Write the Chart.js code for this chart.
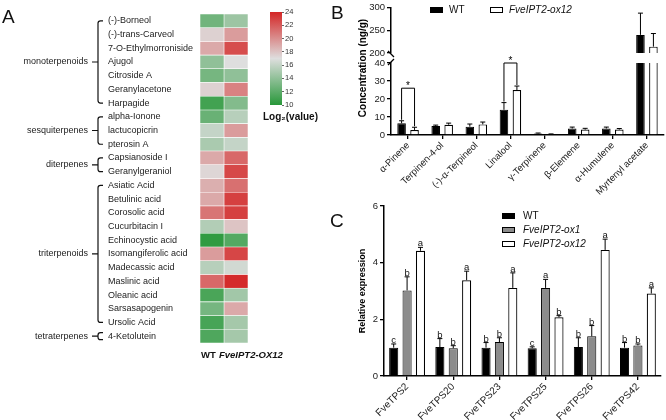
<!DOCTYPE html>
<html>
<head>
<meta charset="utf-8">
<script src="https://cdn.jsdelivr.net/npm/chart.js@4.4.1/dist/chart.umd.min.js"></script>
<style>
  html, body { margin: 0; padding: 0; background: #fff; }
  #wrap { position: relative; width: 666px; height: 420px; overflow: hidden; }
  .box { position: absolute; }
</style>
</head>
<body>
<div id="wrap">
  <div class="box" style="left:0;top:0;width:330px;height:420px"><canvas id="heatChart"></canvas></div>
  <div class="box" style="left:250px;top:0;width:80px;height:140px"><canvas id="scaleChart"></canvas></div>
  <div class="box" style="left:330px;top:0;width:336px;height:200px"><canvas id="bLowChart"></canvas></div>
  <div class="box" style="left:330px;top:0;width:336px;height:200px"><canvas id="bHighChart"></canvas></div>
  <div class="box" style="left:330px;top:195px;width:336px;height:225px"><canvas id="cChart"></canvas></div>
</div>
<script>
const FONT = '"Liberation Sans", Arial, Helvetica, sans-serif';
Chart.defaults.font.family = FONT;
Chart.defaults.color = '#222';
Chart.defaults.animation = false;
Chart.defaults.maintainAspectRatio = false;
Chart.defaults.plugins.legend.display = false;
Chart.defaults.plugins.tooltip.enabled = false;

// A - heatmap (log2 values)
const compounds = ['(-)-Borneol', '(-)-trans-Carveol', '7-O-Ethylmorroniside', 'Ajugol', 'Citroside A',
  'Geranylacetone', 'Harpagide', 'alpha-Ionone', 'lactucopicrin', 'pterosin A', 'Capsianoside I',
  'Geranylgeraniol', 'Asiatic Acid', 'Betulinic acid', 'Corosolic acid', 'Cucurbitacin I',
  'Echinocystic acid', 'Isomangiferolic acid', 'Madecassic acid', 'Maslinic acid', 'Oleanic acid',
  'Sarsasapogenin', 'Ursolic Acid', '4-Ketolutein'];
const log2WT = [12.8, 17.5, 19, 14, 13, 17.5, 11, 12.5, 16, 15, 19, 17.3, 18.8, 19, 21, 15.3, 10.3, 19.5, 15.5, 21.5, 11.3, 13, 11.2, 11.5];
const log2OX = [14.5, 19.5, 22.5, 17, 14, 20.5, 13.5, 15.5, 19.5, 16, 21.5, 22.7, 21.2, 23, 23, 18, 11.7, 22.8, 16.5, 23.8, 14.7, 19, 14.8, 14.8];
const groupNames = ['monoterpenoids', 'sesquiterpenes', 'diterpenes', 'triterpenoids', 'tetraterpenes'];
const groupSizes = [7, 3, 2, 11, 1];
const heatColumns = ['WT', 'FveIPT2-OX12'];
const scaleMin = 10, scaleMax = 24;

// B - concentration (ng/g)
const labelsB = ['α-Pinene', 'Terpinen-4-ol', '(-)-α-Terpineol', 'Linalool', 'γ-Terpinene', 'β-Elemene', 'α-Humulene', 'Myrtenyl acetate'];
const wtB = [6.5, 5.0, 4.6, 14, 0.8, 3.6, 3.6, 240];
const wtErrB = [1.4, 0.5, 1.5, 4.0, 0.3, 0.8, 0.8, 48];
const oxB = [2.8, 5.7, 5.9, 25, 0.4, 3.0, 3.0, 214];
const oxErrB = [1.5, 0.9, 1.3, 2.2, 0.2, 0.7, 0.6, 29];
const sigPairs = [{ index: 0, level: 26 }, { index: 3, level: 40 }];

// C - relative expression
const genesC = ['FveTPS2', 'FveTPS20', 'FveTPS23', 'FveTPS25', 'FveTPS26', 'FveTPS42'];
const wtC = [1.0, 1.02, 1.0, 0.98, 1.02, 1.0];
const wtErrC = [0.13, 0.3, 0.18, 0.05, 0.33, 0.18];
const ox1C = [3.02, 0.98, 1.2, 3.11, 1.4, 1.08];
const ox1ErrC = [0.48, 0.09, 0.15, 0.3, 0.38, 0.05];
const ox12C = [4.42, 3.38, 3.11, 2.07, 4.45, 2.91];
const ox12ErrC = [0.12, 0.32, 0.53, 0.06, 0.38, 0.2];
const wtLetters = ['c', 'b', 'b', 'c', 'b', 'b'];
const ox1Letters = ['b', 'b', 'b', 'a', 'b', 'b'];
const ox12Letters = ['a', 'a', 'a', 'b', 'a', 'a'];

const green = [40, 152, 58], mid = [222, 222, 222], red = [212, 38, 38];
function heatColor(v) {
  const t = Math.max(0, Math.min(1, (v - scaleMin) / (scaleMax - scaleMin)));
  const a = t < 0.5 ? green : mid, b = t < 0.5 ? mid : red;
  const f = t < 0.5 ? t / 0.5 : (t - 0.5) / 0.5;
  return 'rgb(' + a.map((x, i) => Math.round(x + (b[i] - x) * f)).join(',') + ')';
}

function panelLetter(ctx, s, x, y) {
  ctx.font = '19px ' + FONT;
  ctx.fillStyle = '#111';
  ctx.textAlign = 'left';
  ctx.textBaseline = 'alphabetic';
  ctx.fillText(s, x, y);
}

// brackets, group names, column names
const heatDecor = {
  id: 'heatDecor',
  afterDraw(chart) {
    const { ctx } = chart;
    const y = chart.scales.y, x = chart.scales.x;
    ctx.save();
    ctx.strokeStyle = '#111';
    ctx.fillStyle = '#222';
    ctx.lineWidth = 1.2;
    ctx.font = '9px ' + FONT;
    ctx.textAlign = 'right';
    ctx.textBaseline = 'middle';
    const bx = 98;
    let start = 0;
    groupNames.forEach((name, g) => {
      const end = start + groupSizes[g] - 1;
      let y0 = y.getPixelForValue(start), y1 = y.getPixelForValue(end);
      if (y1 - y0 < 7) { const m = (y0 + y1) / 2; y0 = m - 3.5; y1 = m + 3.5; }
      const m = (y0 + y1) / 2;
      ctx.beginPath();
      ctx.moveTo(bx + 5, y0);
      ctx.arcTo(bx, y0, bx, y0 + 3, 2.5);
      ctx.lineTo(bx, y1 - 3);
      ctx.arcTo(bx, y1, bx + 5, y1, 2.5);
      ctx.lineTo(bx + 5, y1);
      ctx.moveTo(bx, m);
      ctx.lineTo(bx - 6, m);
      ctx.stroke();
      ctx.fillText(name, 88, m);
      start = end + 1;
    });
    ctx.textAlign = 'left';
    ctx.textBaseline = 'alphabetic';
    ctx.fillStyle = '#111';
    ctx.font = 'bold 9.5px ' + FONT;
    ctx.fillText(heatColumns[0], x.getPixelForValue(0) + 1, 358);
    ctx.font = 'italic bold 9.5px ' + FONT;
    ctx.fillText(heatColumns[1], x.getPixelForValue(1) - 5, 358);
    panelLetter(ctx, 'A', 2, 23);
    ctx.restore();
  }
};

new Chart(document.getElementById('heatChart'), {
  type: 'bar',
  data: {
    labels: compounds,
    datasets: [
      { label: heatColumns[0], data: compounds.map(() => [0, 1]), backgroundColor: log2WT.map(heatColor) },
      { label: heatColumns[1], data: compounds.map(() => [1, 2]), backgroundColor: log2OX.map(heatColor) }
    ]
  },
  options: {
    indexAxis: 'y',
    layout: { padding: { left: 108, top: 14, right: 82, bottom: 77 } },
    datasets: { bar: { grouped: false, barPercentage: 1, categoryPercentage: 1, borderColor: '#fff', borderWidth: 0.6, borderSkipped: false } },
    scales: {
      x: { type: 'linear', min: 0, max: 2, display: false },
      y: {
        grid: { display: false }, border: { display: false },
        ticks: { crossAlign: 'far', font: { size: 9 }, color: '#222', padding: 0, autoSkip: false },
        afterFit: s => { s.width = 92; }
      }
    }
  },
  plugins: [heatDecor]
});

// colour scale
const scaleTitle = {
  id: 'scaleTitle',
  afterDraw(chart) {
    const { ctx } = chart;
    ctx.save();
    ctx.fillStyle = '#111';
    ctx.textBaseline = 'alphabetic';
    ctx.font = 'bold 10px ' + FONT;
    ctx.fillText('Log₂(value)', 13, 120);
    ctx.restore();
  }
};

new Chart(document.getElementById('scaleChart'), {
  type: 'bar',
  data: {
    labels: [''],
    datasets: [{
      data: [[scaleMin, scaleMax]],
      backgroundColor: c => {
        const a = c.chart.chartArea;
        if (!a) return '#ccc';
        const g = c.chart.ctx.createLinearGradient(0, a.bottom, 0, a.top);
        g.addColorStop(0, heatColor(scaleMin));
        g.addColorStop(0.5, heatColor((scaleMin + scaleMax) / 2));
        g.addColorStop(1, heatColor(scaleMax));
        return g;
      }
    }]
  },
  options: {
    layout: { padding: { left: 20, top: 12, right: 28, bottom: 35 } },
    datasets: { bar: { barPercentage: 1, categoryPercentage: 1, borderWidth: 0 } },
    scales: {
      x: { display: false },
      y: {
        position: 'right', min: scaleMin, max: scaleMax,
        ticks: { stepSize: 2, font: { size: 7.5 }, padding: 1, color: '#333' },
        grid: { drawOnChartArea: false, tickLength: 2, color: '#666' },
        border: { display: false },
        afterFit: s => { s.width = 20; }
      }
    }
  },
  plugins: [scaleTitle]
});

// error bars (upper only)
const errorBars = {
  id: 'errorBars',
  afterDatasetsDraw(chart) {
    const { ctx, chartArea: a } = chart;
    const yScale = chart.scales.y;
    ctx.save();
    ctx.beginPath();
    ctx.rect(a.left, a.top - 1, a.right - a.left, a.bottom - a.top + 2);
    ctx.clip();
    ctx.strokeStyle = '#000';
    ctx.lineWidth = 1;
    chart.data.datasets.forEach((ds, i) => {
      if (!ds.errors) return;
      chart.getDatasetMeta(i).data.forEach((bar, j) => {
        const yTop = yScale.getPixelForValue(ds.data[j] + ds.errors[j]);
        ctx.beginPath();
        ctx.moveTo(bar.x, bar.y);
        ctx.lineTo(bar.x, yTop);
        ctx.moveTo(bar.x - 2.5, yTop);
        ctx.lineTo(bar.x + 2.5, yTop);
        ctx.stroke();
      });
    });
    ctx.restore();
  }
};

const bDecor = {
  id: 'bDecor',
  afterDraw(chart) {
    const { ctx } = chart;
    const y = chart.scales.y;
    const m0 = chart.getDatasetMeta(0), m1 = chart.getDatasetMeta(1);
    const ds0 = chart.data.datasets[0], ds1 = chart.data.datasets[1];
    ctx.save();
    ctx.strokeStyle = '#000';
    ctx.fillStyle = '#000';
    ctx.lineWidth = 1;
    sigPairs.forEach(p => {
      const xa = m0.data[p.index].x, xb = m1.data[p.index].x;
      const yl = y.getPixelForValue(p.level);
      const ya = y.getPixelForValue(ds0.data[p.index] + ds0.errors[p.index]) - 1;
      const yb = y.getPixelForValue(ds1.data[p.index] + ds1.errors[p.index]) - 1;
      ctx.beginPath();
      ctx.moveTo(xa, ya); ctx.lineTo(xa, yl); ctx.lineTo(xb, yl); ctx.lineTo(xb, yb);
      ctx.stroke();
      ctx.font = '10px ' + FONT;
      ctx.textAlign = 'center';
      ctx.textBaseline = 'alphabetic';
      ctx.fillText('*', (xa + xb) / 2, yl + 1);
    });
    // axis break marks
    const ax = chart.chartArea.left;
    ctx.lineWidth = 1.3;
    ctx.beginPath();
    ctx.moveTo(ax - 3, 51); ctx.lineTo(ax + 3, 57);
    ctx.moveTo(ax - 3, 65); ctx.lineTo(ax + 3, 59);
    ctx.stroke();
    // y title spanning both segments
    ctx.save();
    ctx.translate(33, 68);
    ctx.rotate(-Math.PI / 2);
    ctx.font = 'bold 10px ' + FONT;
    ctx.textAlign = 'center';
    ctx.textBaseline = 'middle';
    ctx.fillText('Concentration (ng/g)', 0, 0);
    ctx.restore();
    panelLetter(ctx, 'B', 1, 19);
    ctx.restore();
  }
};

function drawLegend(chart, x0, y0, step, horizontal, offsets) {
  const { ctx } = chart;
  ctx.save();
  ctx.font = '10px ' + FONT;
  ctx.textBaseline = 'middle';
  ctx.textAlign = 'left';
  chart.data.datasets.forEach((ds, i) => {
    const bx = horizontal ? x0 + offsets[i] : x0;
    const by = horizontal ? y0 : y0 + i * step;
    ctx.fillStyle = ds.backgroundColor;
    ctx.fillRect(bx, by, 13, 6);
    ctx.strokeStyle = '#000';
    ctx.lineWidth = 1;
    ctx.strokeRect(bx + 0.5, by + 0.5, 12, 5);
    ctx.fillStyle = '#111';
    ctx.font = (i === 0 ? '' : 'italic ') + '10px ' + FONT;
    ctx.fillText(ds.label, bx + (horizontal ? 19 : 21), by + 3);
  });
  ctx.restore();
}

const bLegend = {
  id: 'bLegend',
  afterDraw(chart) { drawLegend(chart, 100, 7, 0, true, [0, 60]); }
};

function yAxisOpts(min, max, step, width) {
  return {
    min: min, max: max,
    ticks: { stepSize: step, font: { size: 9.5 }, color: '#222', padding: 2 },
    grid: { drawOnChartArea: false, tickLength: 4, color: '#000', lineWidth: 1.3 },
    border: { color: '#000', width: 1.5 },
    afterFit: s => { s.width = width; }
  };
}

function xAxisOpts(height, size) {
  return {
    grid: { offset: false, drawOnChartArea: false, tickLength: 4, color: '#000', lineWidth: 1.3 },
    border: { color: '#000', width: 1.5 },
    ticks: { minRotation: 45, maxRotation: 45, font: { size: size }, color: '#222', padding: 1, autoSkip: false },
    afterFit: s => { s.height = height; }
  };
}

function bDatasets() {
  return [
    { label: 'WT', data: wtB, errors: wtErrB, backgroundColor: '#000', borderColor: '#000', borderWidth: 1, clip: 0 },
    { label: 'FveIPT2-ox12', data: oxB, errors: oxErrB, backgroundColor: '#fff', borderColor: '#000', borderWidth: 1.2, clip: 0 }
  ];
}

new Chart(document.getElementById('bLowChart'), {
  type: 'bar',
  data: { labels: labelsB, datasets: bDatasets() },
  options: {
    layout: { padding: { left: 0, right: 2, top: 63, bottom: 0 } },
    datasets: { bar: { categoryPercentage: 0.76, barPercentage: 0.66 } },
    scales: { x: xAxisOpts(65, 9.5), y: yAxisOpts(0, 40, 10, 61) }
  },
  plugins: [errorBars, bDecor]
});

new Chart(document.getElementById('bHighChart'), {
  type: 'bar',
  data: { labels: labelsB, datasets: bDatasets() },
  options: {
    layout: { padding: { left: 0, right: 2, top: 5, bottom: 147 } },
    datasets: { bar: { categoryPercentage: 0.76, barPercentage: 0.66 } },
    scales: { x: { display: false }, y: yAxisOpts(200, 300, 50, 61) }
  },
  plugins: [errorBars, bLegend]
});

// C
const letterMarks = {
  id: 'letterMarks',
  afterDatasetsDraw(chart) {
    const { ctx } = chart;
    const y = chart.scales.y;
    ctx.save();
    ctx.fillStyle = '#111';
    ctx.font = '9.5px ' + FONT;
    ctx.textAlign = 'center';
    ctx.textBaseline = 'alphabetic';
    chart.data.datasets.forEach((ds, i) => {
      chart.getDatasetMeta(i).data.forEach((bar, j) => {
        ctx.fillText(ds.letters[j], bar.x, y.getPixelForValue(ds.data[j] + ds.errors[j]) - 1);
      });
    });
    panelLetter(ctx, 'C', 0, 32);
    ctx.restore();
  }
};

const cLegend = {
  id: 'cLegend',
  afterDraw(chart) { drawLegend(chart, 172, 18, 14, false); }
};

const cY = yAxisOpts(0, 6, 2, 31);
cY.title = { display: true, text: 'Relative expression', color: '#000', font: { size: 9, weight: 'bold' }, padding: { top: 4, bottom: 0 } };

new Chart(document.getElementById('cChart'), {
  type: 'bar',
  data: {
    labels: genesC,
    datasets: [
      { label: 'WT', data: wtC, errors: wtErrC, letters: wtLetters, backgroundColor: '#000', borderColor: '#000', borderWidth: 1 },
      { label: 'FveIPT2-ox1', data: ox1C, errors: ox1ErrC, letters: ox1Letters, backgroundColor: '#8c8c8c', borderColor: '#000', borderWidth: 1 },
      { label: 'FveIPT2-ox12', data: ox12C, errors: ox12ErrC, letters: ox12Letters, backgroundColor: '#fff', borderColor: '#000', borderWidth: 1.2 }
    ]
  },
  options: {
    layout: { padding: { left: 23, right: 5, top: 11, bottom: 0 } },
    datasets: { bar: { categoryPercentage: 0.87, barPercentage: 0.68 } },
    scales: { x: xAxisOpts(44, 10), y: cY }
  },
  plugins: [errorBars, letterMarks, cLegend]
});
</script>
</body>
</html>
